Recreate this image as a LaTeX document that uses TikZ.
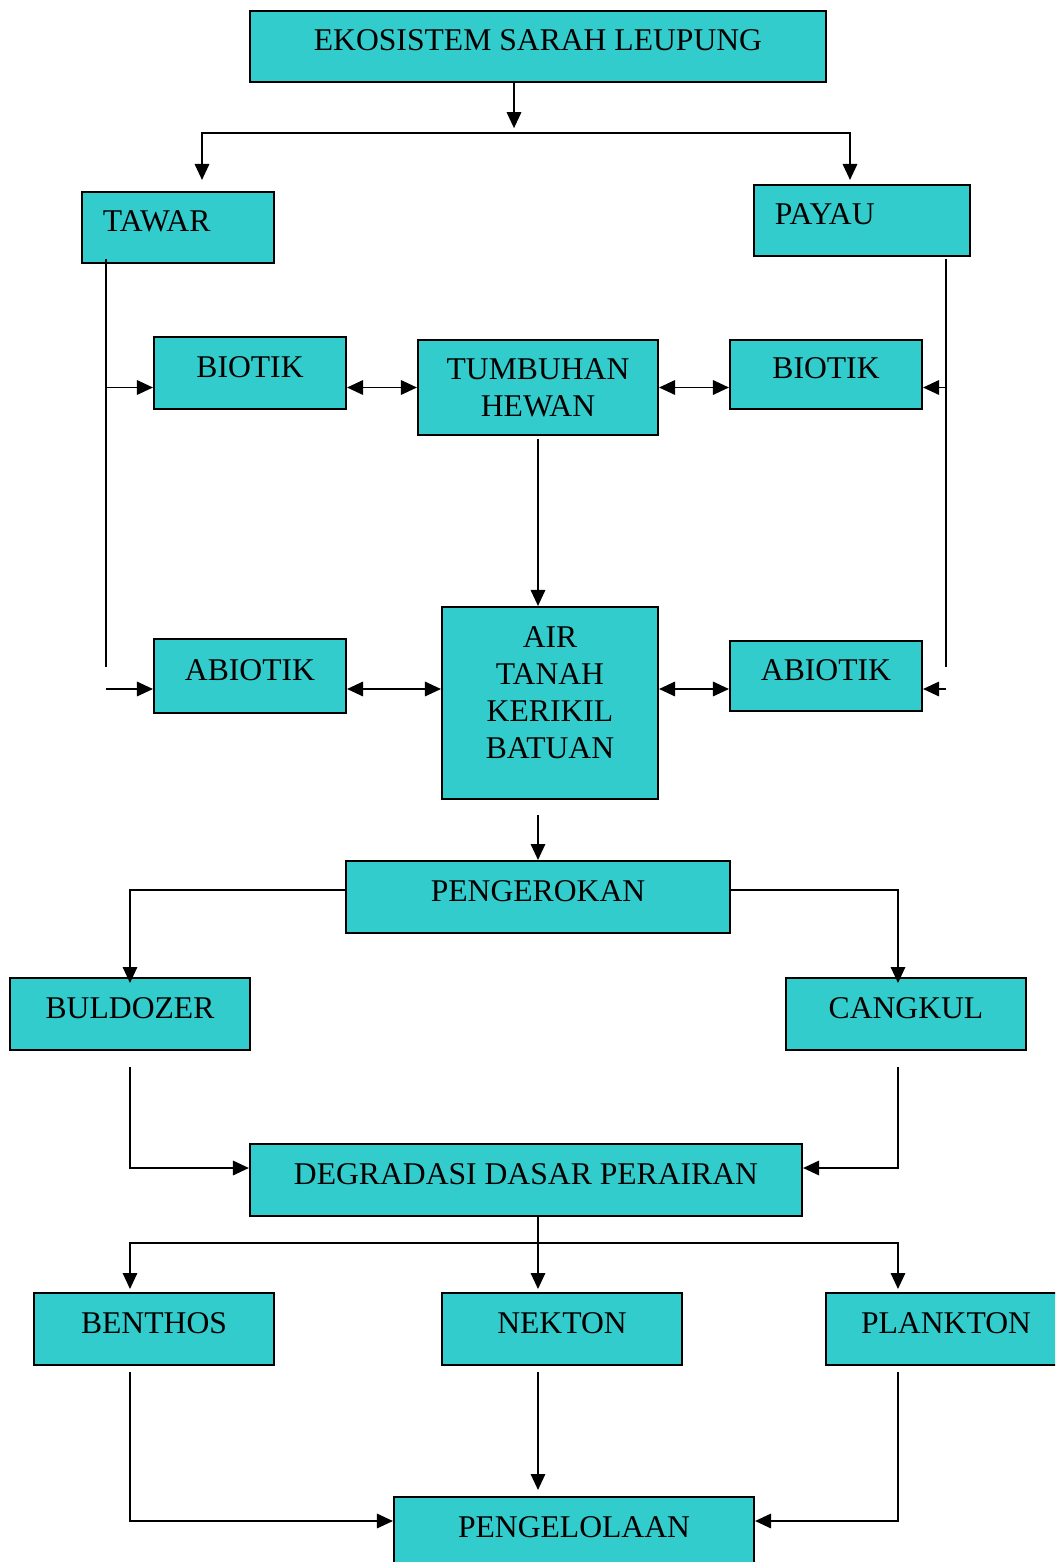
\documentclass[tikz,border=0pt]{standalone}
\usepackage{fontspec}
\setmainfont{Liberation Serif}
\usepackage{xcolor}
\usepackage{tikz}
\usetikzlibrary{arrows.meta, positioning, calc}
\definecolor{kotakcolor}{RGB}{51,204,204}

\begin{document}
\begin{tikzpicture}[
    x=0.025cm, y=-0.025cm,
    kotak/.style={draw, line width=1.4pt, fill=kotakcolor, minimum width=6cm, minimum height=1.8cm, align=center, text depth=0.3cm, inner sep=0pt, font=\fontsize{22.5}{26.3}\selectfont},
    kiri/.style={kotak, align=left, inner xsep=0.525cm},
    garis/.style={line width=1.4pt},
    panah/.style={-{Triangle[length=0.4cm, width=0.36cm]}, line width=1.4pt},
    duapanah/.style={{Triangle[length=0.4cm, width=0.36cm]}-{Triangle[length=0.4cm, width=0.36cm]}, line width=1.4pt}
]
    \path[use as bounding box, clip] (0,0) rectangle (1055,1562);

    % Boxes
    \node[kotak, minimum width=14.4cm, minimum height=1.775cm] (eko) at (538,46.5) {EKOSISTEM SARAH LEUPUNG};
    \node[kiri, text width=3.75cm, minimum width=4.8cm, minimum height=1.775cm] (tawar) at (178,227.5) {TAWAR};
    \node[kiri, text width=4.35cm, minimum width=5.4cm, minimum height=1.775cm] (payau) at (862,220.5) {PAYAU};
    \node[kotak, minimum width=4.8cm] (biotikL) at (250,373) {BIOTIK};
    \node[kotak, minimum height=2.375cm, text depth=0pt] (tumbuhan) at (538,387.5) {TUMBUHAN\\HEWAN};
    \node[kotak, minimum width=4.8cm, minimum height=1.725cm] (biotikR) at (826,374.5) {BIOTIK};
    \node[kotak, minimum width=4.8cm, minimum height=1.85cm] (abiotikL) at (250,676) {ABIOTIK};
    \node[kotak, minimum width=5.4cm, minimum height=4.8cm, text depth=0.5cm] (air) at (550,703) {AIR\\TANAH\\KERIKIL\\BATUAN};
    \node[kotak, minimum width=4.8cm, minimum height=1.75cm] (abiotikR) at (826,676) {ABIOTIK};
    \node[kotak, minimum width=9.6cm] (pengerokan) at (538,897) {PENGEROKAN};
    \node[kotak] (buldozer) at (130,1014) {BULDOZER};
    \node[kotak] (cangkul) at (906,1014) {CANGKUL};
    \node[kotak, minimum width=13.8cm] (degradasi) at (526,1180) {DEGRADASI DASAR PERAIRAN};
    \node[kotak] (benthos) at (154,1329) {BENTHOS};
    \node[kotak] (nekton) at (562,1329) {NEKTON};
    \node[kotak] (plankton) at (946,1329) {PLANKTON};
    \node[kotak, minimum width=9cm] (pengelolaan) at (574,1533) {PENGELOLAAN};

    % Junctions
    \coordinate (cabang) at (514,133);
    \coordinate (keTawar) at (202,180);
    \coordinate (kePayau) at (850,180);
    \coordinate (tw1) at (106,667);
    \coordinate (tw2) at (106,689);
    \coordinate (py1) at (946,667);
    \coordinate (py2) at (946,689);
    \coordinate (dariAir) at (538,815);
    \coordinate (cabang2) at (538,1243);

    % Top split
    \draw[panah] (eko.south -| cabang) -- ([yshift=0.12cm]cabang);
    \draw[panah] (cabang) -| (keTawar);
    \draw[panah] (cabang) -| (kePayau);

    % Tawar side
    \draw[garis] ([yshift=0.125cm]tawar.south -| tw1) -- (tw1);
    \draw[panah] (tw1 |- tumbuhan) -- (biotikL.west |- tumbuhan);
    \draw[panah] (tw2) -- (abiotikL.west |- tw2);

    % Payau side
    \draw[garis] ([yshift=-0.05cm]payau.south -| py1) -- (py1);
    \draw[panah] (py1 |- tumbuhan) -- (biotikR.east |- tumbuhan);
    \draw[panah] (py2) -- (abiotikR.east |- py2);

    % Biotik and abiotik links
    \draw[duapanah] (biotikL.east |- tumbuhan) -- (tumbuhan.west);
    \draw[duapanah] (tumbuhan.east) -- (biotikR.west |- tumbuhan);
    \draw[duapanah] (abiotikL.east |- tw2) -- (air.west |- tw2);
    \draw[duapanah] (air.east |- py2) -- (abiotikR.west |- py2);
    \draw[panah] ([yshift=-0.075cm]tumbuhan.south) -- (tumbuhan.south |- air.north);

    % Pengerokan
    \draw[panah] (dariAir) -- (pengerokan.north);
    \draw[panah] ([yshift=0.175cm]pengerokan.west) -| ([yshift=-0.15cm]buldozer.north);
    \draw[panah] ([yshift=0.175cm]pengerokan.east) -| ([xshift=-0.2cm, yshift=-0.15cm]cangkul.north);
    \draw[panah] ([yshift=-0.4cm]buldozer.south) |- ([yshift=0.3cm]degradasi.west);
    \draw[panah] ([xshift=-0.2cm, yshift=-0.4cm]cangkul.south) |- ([yshift=0.3cm]degradasi.east);

    % Degradasi
    \draw[panah] (degradasi.south -| cabang2) -- ([yshift=0.075cm]nekton.north -| cabang2);
    \draw[panah] (cabang2) -| ([xshift=-0.6cm, yshift=0.075cm]benthos.north);
    \draw[panah] (cabang2) -| ([xshift=-1.2cm, yshift=0.075cm]plankton.north);

    % Pengelolaan
    \draw[panah] ([xshift=-0.6cm, yshift=-0.15cm]benthos.south) |- ([yshift=0.3cm]pengelolaan.west);
    \draw[panah] ([xshift=-0.6cm, yshift=-0.15cm]nekton.south) -- ([xshift=-0.9cm, yshift=0.15cm]pengelolaan.north);
    \draw[panah] ([xshift=-1.2cm, yshift=-0.15cm]plankton.south) |- ([yshift=0.3cm]pengelolaan.east);
\end{tikzpicture}
\end{document}
